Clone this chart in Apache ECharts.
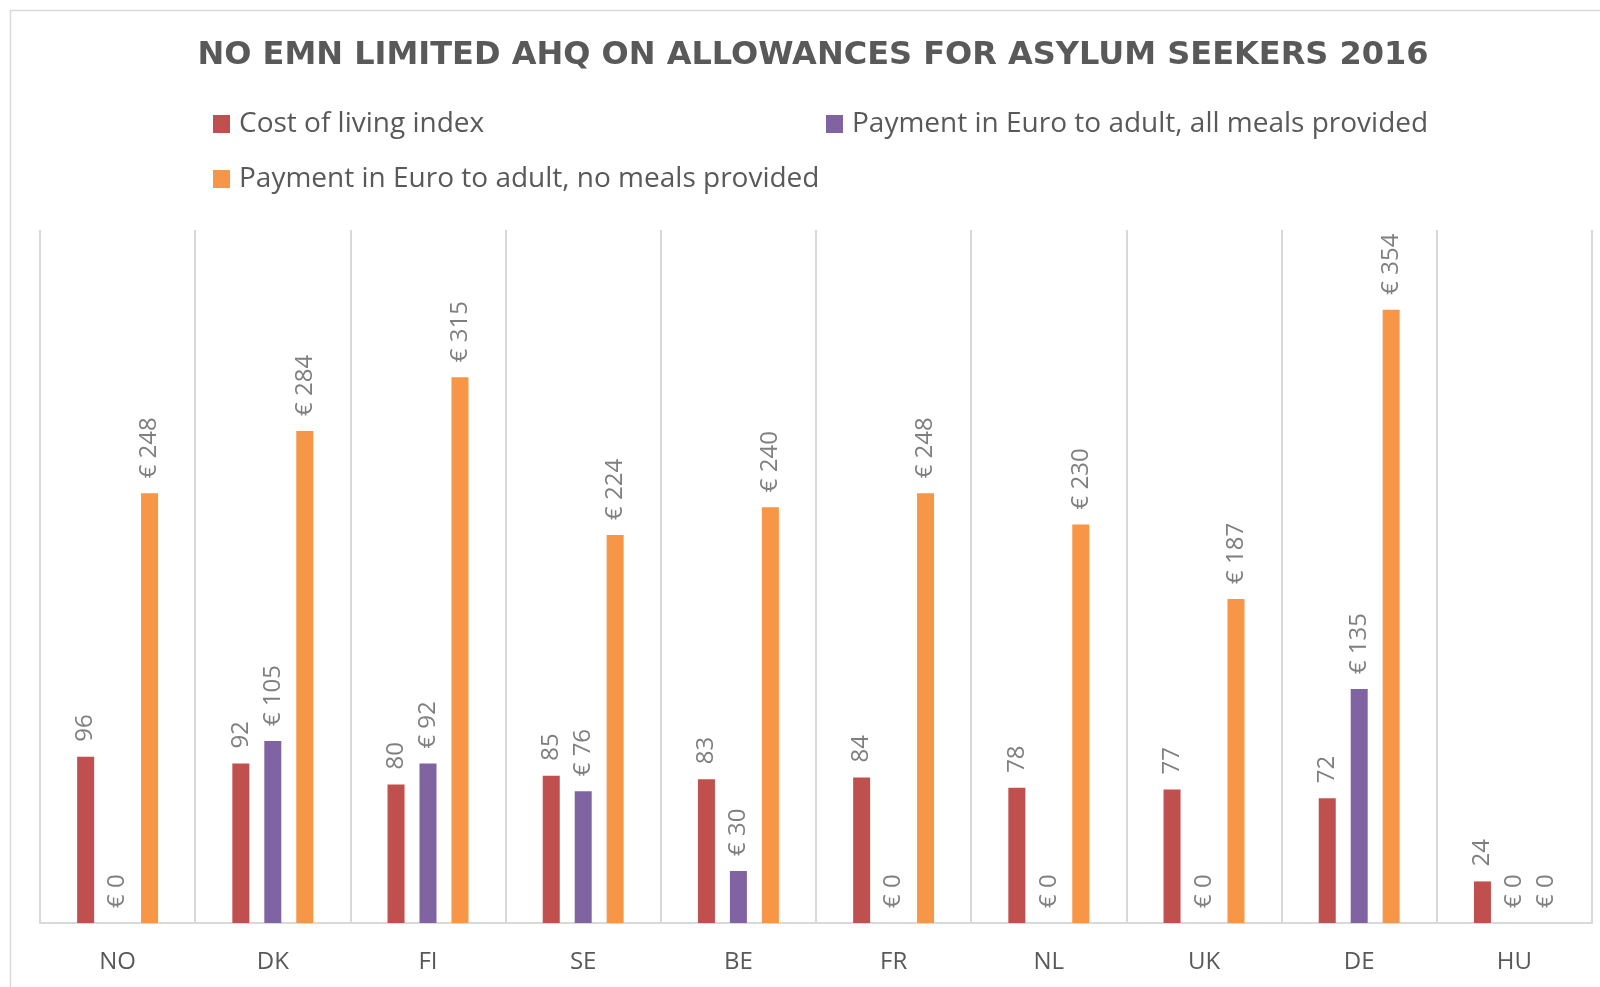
<!DOCTYPE html>
<html>
<head>
<meta charset="utf-8">
<script src="https://cdn.jsdelivr.net/npm/echarts@6/dist/echarts.min.js"></script>
<style>
html,body{margin:0;padding:0;background:#fff;}
#c{width:1600px;height:987px;}
</style>
</head>
<body>
<div id="c"></div>
<script>
const categories = ['NO','DK','FI','SE','BE','FR','NL','UK','DE','HU'];
const costOfLiving = [96, 92, 80, 85, 83, 84, 78, 77, 72, 24];
const allMeals = [0, 105, 92, 76, 30, 0, 0, 0, 135, 0];
const noMeals = [248, 284, 315, 224, 240, 248, 230, 187, 354, 0];
const seriesNames = ['Cost of living index', 'Payment in Euro to adult, all meals provided', 'Payment in Euro to adult, no meals provided'];
const titleText = 'NO EMN LIMITED AHQ ON ALLOWANCES FOR ASYLUM SEEKERS 2016';

const FONT = '"Open Sans", "Noto Sans", sans-serif';
const chart = echarts.init(document.getElementById('c'));

function labelCfg(fmt) {
  return {
    show: true,
    position: 'top',
    rotate: 90,
    align: 'left',
    verticalAlign: 'middle',
    distance: 15,
    color: '#7f7f7f',
    fontSize: 24,
    fontFamily: FONT,
    formatter: fmt
  };
}

const euro = p => '€ ' + p.value;

function legendCfg(name, left, top) {
  return {
    data: [name],
    left: left, top: top,
    itemWidth: 17, itemHeight: 18,
    icon: 'rect',
    textStyle: { fontFamily: FONT, fontSize: 28, color: '#595959', padding: [0,0,0,4] }
  };
}

chart.setOption({
  animation: false,
  backgroundColor: '#fff',
  title: {
    text: titleText,
    left: 808,
    textAlign: 'center',
    top: 35,
    textStyle: { fontFamily: '"DejaVu Sans", sans-serif', fontSize: 32, fontWeight: 'bold', color: '#595959' }
  },
  legend: [
    legendCfg(seriesNames[0], 208, 105),
    legendCfg(seriesNames[1], 821, 105),
    legendCfg(seriesNames[2], 208, 160)
  ],
  graphic: [{
    type: 'rect',
    shape: { x: 10.5, y: 10.5, width: 1700, height: 1100 },
    style: { fill: 'none', stroke: '#d9d9d9', lineWidth: 1.5 },
    silent: true
  }],
  grid: { left: 40, right: 8, top: 230, bottom: 64, containLabel: false },
  xAxis: {
    type: 'category',
    data: categories,
    boundaryGap: true,
    axisLine: { show: true, lineStyle: { color: '#d9d9d9', width: 2 } },
    axisTick: { show: false },
    splitLine: { show: true, interval: 0, lineStyle: { color: '#d9d9d9', width: 2 } },
    axisLabel: { margin: 27, fontFamily: FONT, fontSize: 24, color: '#595959' }
  },
  yAxis: {
    type: 'value',
    min: 0, max: 400, interval: 100,
    show: false,
    splitLine: { show: false }
  },
  series: [
    {
      name: seriesNames[0], type: 'bar', data: costOfLiving,
      barWidth: 17, barGap: '88%',
      itemStyle: { color: '#C0504D' },
      label: labelCfg(p => String(p.value))
    },
    {
      name: seriesNames[1], type: 'bar', data: allMeals,
      barWidth: 17, barGap: '88%',
      itemStyle: { color: '#8064A2' },
      label: labelCfg(euro)
    },
    {
      name: seriesNames[2], type: 'bar', data: noMeals,
      barWidth: 17, barGap: '88%',
      itemStyle: { color: '#F79646' },
      label: labelCfg(euro)
    }
  ]
});
</script>
</body>
</html>
